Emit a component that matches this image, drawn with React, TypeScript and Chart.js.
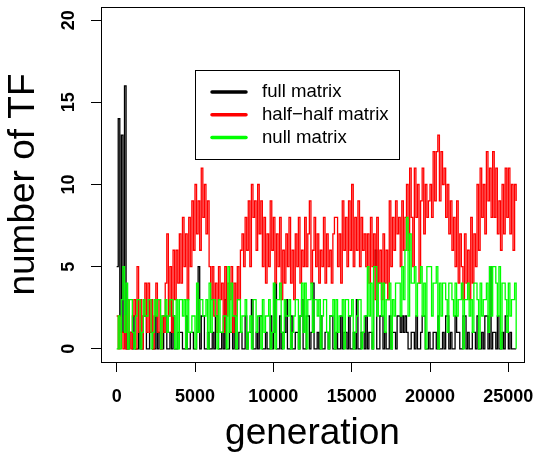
import { useEffect, useRef } from "react";
import { Chart, registerables } from "chart.js";

Chart.register(...registerables);

// generations are sampled every GEN_STEP, starting at 0
const GEN_STEP = 100;
const X_TICKS = [0, 5000, 10000, 15000, 20000, 25000];
const Y_TICKS = [0, 5, 10, 15, 20];

// number of TF per sampled generation (one row = 2000 generations)
const fullMatrix = [
    5, 14, 2, 13, 1, 16, 0, 0, 1, 1, 0, 2, 0, 0, 1, 0, 0, 2, 2, 0,
    0, 1, 1, 0, 0, 2, 0, 1, 0, 0, 2, 2, 0, 0, 1, 0, 2, 0, 0, 1,
    1, 1, 0, 0, 2, 0, 0, 1, 1, 0, 0, 1, 5, 0, 2, 2, 0, 0, 1, 0,
    0, 1, 0, 2, 2, 0, 0, 1, 0, 3, 0, 0, 1, 1, 0, 2, 0, 0, 1, 1,
    0, 0, 2, 0, 1, 1, 3, 0, 0, 1, 0, 2, 2, 0, 0, 1, 0, 0, 2, 0,
    1, 4, 0, 0, 2, 0, 1, 1, 3, 0, 0, 2, 0, 0, 1, 1, 0, 2, 3, 0,
    0, 2, 2, 0, 1, 4, 0, 0, 1, 0, 2, 0, 0, 1, 1, 0, 2, 2, 0, 0,
    1, 0, 0, 2, 0, 1, 1, 0, 2, 0, 0, 1, 0, 3, 0, 0, 1, 1, 0, 2,
    0, 1, 1, 0, 5, 6, 0, 0, 2, 2, 0, 1, 0, 0, 2, 0, 1, 1, 0, 2,
    2, 1, 2, 1, 2, 1, 0, 0, 1, 1, 0, 2, 0, 0, 1, 2, 2, 0, 0, 1,
    0, 0, 1, 1, 0, 2, 0, 0, 1, 0, 2, 2, 0, 1, 0, 0, 2, 1, 1, 0,
    0, 2, 2, 0, 1, 0, 0, 1, 1, 0, 2, 0, 0, 1, 0, 2, 2, 0, 5, 0,
    1, 1, 0, 2, 0, 0, 1, 0, 2, 2, 0, 1, 0, 0, 0, 0,
];

const halfHalfMatrix = [
    2, 0, 2, 1, 0, 2, 0, 3, 1, 0, 2, 3, 0, 5, 1, 3, 0, 2, 4, 1,
    4, 1, 3, 0, 2, 4, 1, 3, 0, 2, 1, 4, 7, 2, 5, 1, 6, 3, 6, 4,
    7, 4, 8, 5, 7, 3, 8, 5, 9, 6, 10, 7, 9, 6, 11, 8, 10, 7, 9, 5,
    3, 5, 2, 4, 1, 5, 3, 4, 1, 5, 2, 4, 3, 5, 1, 4, 2, 5, 3, 6,
    7, 5, 8, 6, 9, 5, 10, 8, 9, 6, 10, 7, 9, 5, 8, 4, 7, 5, 9, 6,
    8, 4, 7, 5, 8, 3, 6, 4, 7, 5, 8, 4, 6, 3, 7, 5, 8, 4, 6, 5,
    8, 5, 7, 9, 4, 6, 8, 5, 7, 4, 6, 5, 8, 4, 7, 5, 6, 4, 7, 8,
    8, 5, 7, 4, 9, 6, 8, 5, 9, 6, 10, 5, 8, 6, 9, 5, 8, 6, 7, 5,
    7, 4, 8, 5, 7, 3, 8, 4, 6, 3, 7, 4, 6, 3, 9, 5, 8, 6, 9, 7,
    8, 5, 9, 6, 8, 10, 6, 11, 8, 5, 11, 8, 10, 4, 9, 11, 7, 10, 8, 9,
    10, 8, 12, 9, 12, 13, 9, 12, 10, 11, 8, 10, 7, 9, 6, 8, 5, 9, 4, 7,
    5, 3, 7, 4, 6, 3, 8, 4, 7, 5, 10, 6, 11, 8, 10, 7, 12, 9, 11, 8,
    12, 8, 11, 7, 9, 6, 10, 7, 11, 8, 11, 7, 10, 6, 10, 9,
];

const nullMatrix = [
    0, 2, 0, 3, 5, 1, 4, 0, 3, 3, 1, 0, 2, 3, 3, 0, 1, 3, 2, 2,
    3, 3, 0, 1, 3, 2, 3, 3, 0, 2, 2, 3, 1, 2, 3, 3, 2, 0, 3, 0,
    3, 3, 2, 3, 0, 3, 1, 1, 2, 2, 0, 4, 1, 3, 3, 2, 2, 3, 0, 4,
    1, 3, 3, 2, 0, 3, 1, 1, 2, 2, 0, 5, 1, 4, 2, 2, 0, 3, 3, 1,
    2, 2, 3, 0, 1, 2, 0, 3, 3, 1, 2, 2, 0, 3, 1, 2, 2, 3, 0, 1,
    4, 0, 3, 3, 4, 1, 0, 3, 2, 2, 3, 0, 1, 2, 3, 3, 0, 2, 4, 1,
    4, 0, 3, 3, 4, 1, 3, 3, 2, 3, 0, 2, 3, 3, 1, 0, 2, 2, 3, 0,
    3, 1, 2, 2, 3, 0, 3, 3, 2, 2, 3, 0, 1, 2, 3, 3, 0, 1, 2, 2,
    5, 2, 4, 0, 5, 5, 2, 4, 4, 2, 4, 1, 3, 3, 4, 0, 3, 2, 4, 4,
    4, 2, 5, 3, 6, 8, 2, 7, 4, 4, 5, 2, 4, 4, 5, 2, 4, 0, 5, 5,
    5, 2, 4, 4, 5, 0, 4, 2, 4, 4, 3, 1, 4, 4, 3, 2, 4, 2, 3, 3,
    4, 0, 3, 3, 4, 2, 3, 1, 4, 4, 3, 0, 4, 2, 3, 3, 4, 1, 5, 2,
    5, 5, 4, 2, 5, 0, 4, 4, 3, 1, 4, 2, 3, 3, 4, 0,
];

const FONT = "'Liberation Sans', Arial, Helvetica, sans-serif";

const toPoints = (values: number[]) => values.map((v, i) => ({ x: i * GEN_STEP, y: v }));

// box around the plot region, as R's box()
const plotFrame = {
    id: "plotFrame",
    afterDraw(chart: any) {
        const a = chart.chartArea;
        const ctx = chart.ctx;
        ctx.save();
        ctx.strokeStyle = "#000";
        ctx.lineWidth = 1;
        ctx.strokeRect(a.left + 0.5, a.top + 0.5, a.right - a.left, a.bottom - a.top);
        ctx.restore();
    }
};

// legend inside the plot, drawn from the datasets
const boxLegend = {
    id: "boxLegend",
    afterDraw(chart: any) {
        const ctx = chart.ctx;
        const left = 195, top = 70, width = 204, height = 89;
        ctx.save();
        ctx.fillStyle = "#fff";
        ctx.fillRect(left, top, width, height);
        ctx.strokeStyle = "#000";
        ctx.lineWidth = 1;
        ctx.strokeRect(left + 0.5, top + 0.5, width, height);
        ctx.font = `18.6px ${FONT}`;
        ctx.textBaseline = "middle";
        ctx.textAlign = "left";
        chart.data.datasets.forEach((ds: any, i: number) => {
            const y = 92 + i * 22.7;
            ctx.strokeStyle = ds.borderColor;
            ctx.lineWidth = 3.5;
            ctx.lineCap = "round";
            ctx.beginPath();
            ctx.moveTo(212, y);
            ctx.lineTo(246, y);
            ctx.stroke();
            ctx.fillStyle = "#000";
            ctx.fillText(ds.label, 262, y);
        });
        ctx.restore();
    }
};

export default function App() {
    const canvasRef = useRef<HTMLCanvasElement>(null);
    const chartRef = useRef<Chart | null>(null);

    useEffect(() => {
        document.body.style.margin = "0";
        if (!canvasRef.current) return;
        if (chartRef.current) chartRef.current.destroy();

        chartRef.current = new Chart(canvasRef.current, {
            type: "line",
            data: {
                datasets: [
                    { label: "full matrix", data: toPoints(fullMatrix), borderColor: "#000000", order: 3 },
                    { label: "half\u2212half matrix", data: toPoints(halfHalfMatrix), borderColor: "#ff0000", order: 2 },
                    { label: "null matrix", data: toPoints(nullMatrix), borderColor: "#00ff00", order: 1 },
                ]
            },
            options: {
                responsive: false,
                animation: false,
                layout: { padding: { top: 7, right: 16, left: 0, bottom: 0 } },
                elements: {
                    point: { radius: 0, hoverRadius: 0 },
                    line: { borderWidth: 1.3, stepped: true, tension: 0, fill: false }
                },
                plugins: {
                    legend: { display: false },
                    tooltip: { enabled: false }
                },
                scales: {
                    x: {
                        type: "linear",
                        min: -1000,
                        max: 26000,
                        afterBuildTicks: (s: any) => { s.ticks = X_TICKS.map(value => ({ value })); },
                        afterFit: (s: any) => { s.height = 94; s.paddingLeft = 0; s.paddingRight = 0; },
                        border: { display: true, color: "#000", width: 1 },
                        grid: { drawOnChartArea: false, drawTicks: true, tickLength: 10, color: "#000", lineWidth: 1 },
                        ticks: {
                            color: "#000",
                            padding: 14,
                            maxRotation: 0,
                            autoSkip: false,
                            font: { family: FONT, size: 18, weight: "bold" },
                            callback: (v: any) => String(v)
                        },
                        title: {
                            display: true,
                            text: "generation",
                            color: "#000",
                            padding: 0,
                            font: { family: FONT, size: 37, weight: "normal" }
                        }
                    },
                    y: {
                        type: "linear",
                        min: -0.8,
                        max: 20.8,
                        afterBuildTicks: (s: any) => { s.ticks = Y_TICKS.map(value => ({ value })); },
                        afterFit: (s: any) => { s.width = 101; s.paddingTop = 0; s.paddingBottom = 0; },
                        border: { display: true, color: "#000", width: 1 },
                        grid: { drawOnChartArea: false, drawTicks: true, tickLength: 10, color: "#000", lineWidth: 1 },
                        ticks: {
                            color: "#000",
                            padding: 12,
                            minRotation: 90,
                            maxRotation: 90,
                            crossAlign: "center",
                            autoSkip: false,
                            font: { family: FONT, size: 18, weight: "bold" },
                            callback: (v: any) => String(v)
                        },
                        title: {
                            display: true,
                            text: "number of TF",
                            color: "#000",
                            padding: { top: 2, bottom: 0 },
                            font: { family: FONT, size: 37, weight: "normal" }
                        }
                    }
                }
            },
            plugins: [plotFrame, boxLegend]
        });

        return () => {
            if (chartRef.current) {
                chartRef.current.destroy();
                chartRef.current = null;
            }
        };
    }, []);

    return <canvas ref={canvasRef} width={540} height={456} />;
}
